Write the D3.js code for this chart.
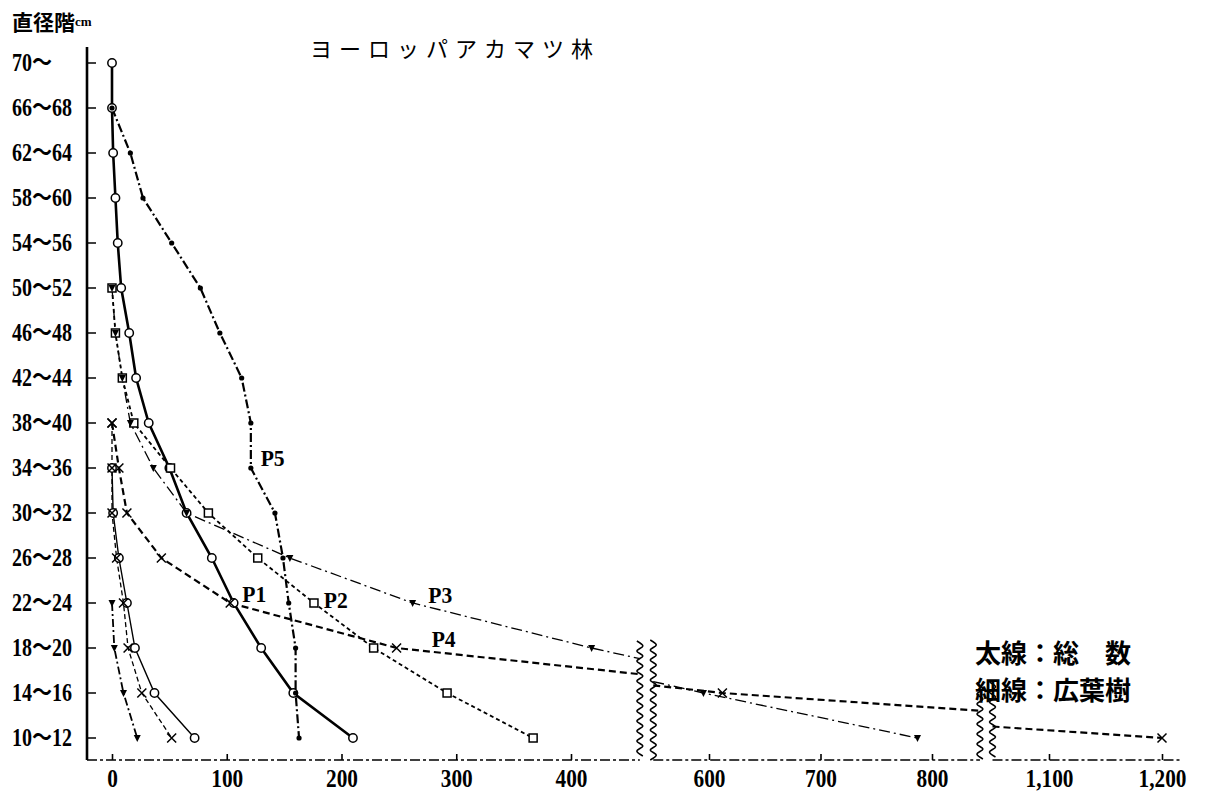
<!DOCTYPE html>
<html><head><meta charset="utf-8">
<script src="https://cdn.jsdelivr.net/npm/d3@7"></script>
<style>body{margin:0;background:#fff} svg{display:block;background:#fff}</style>
</head><body><svg id="c" width="1207" height="796"></svg>
<script>
// ---------- data ----------
const categories = ["70〜","66〜68","62〜64","58〜60","54〜56","50〜52","46〜48","42〜44","38〜40","34〜36","30〜32","26〜28","22〜24","18〜20","14〜16","10〜12"];
const N = null;
// 総数 (thick lines)
const p1Total = [0,0,1,3,5,8,15,21,32,50,65,87,106,130,158,210];
const p2Total = [N,N,N,N,N,0,3,9,19,51,84,127,176,228,292,367];
const p3Total = [N,N,N,N,N,0,3,9,16,36,65,155,262,418,595,787];
const p4Total = [N,N,N,N,N,N,N,N,0,6,13,43,103,248,612,1200];
const p5Total = [N,0,16,27,52,77,94,113,121,121,142,149,154,160,160,163];
// 広葉樹 (thin lines)
const p1Broad = [N,N,N,N,N,N,N,N,N,0,1,6,13,20,37,72];
const p3Broad = [N,N,N,N,N,N,N,N,N,N,N,N,0,2,10,22];
const p4Broad = [N,N,N,N,N,N,N,N,0,0,0,4,10,14,26,52];
// axis ticks
const xTicks1 = [0,100,200,300,400];
const xTicks2 = [600,700,800];
const xTicks3 = [1100,1200];
const seriesLabels = ["P1","P2","P3","P4","P5"];
const titleText = "ヨーロッパアカマツ林";
const yTitle = "直径階";
const yUnit = "cm";
const legend1 = "太線：総　数";
const legend2 = "細線：広葉樹";

// ---------- scales ----------
const svg = d3.select("#c");
const y = d3.scalePoint().domain(categories).range([63, 738]);
const segs = [
  {scale: d3.scaleLinear().domain([0,400]).range([112,571]), lo:-100, hi:460, ticks:xTicks1},
  {scale: d3.scaleLinear().domain([600,800]).range([709,932]), lo:550, hi:843, ticks:xTicks2},
  {scale: d3.scaleLinear().domain([1100,1200]).range([1049,1162]), lo:1050, hi:1225, ticks:xTicks3}
];
function xv(v){ for (const s of segs) if (v <= s.hi) return s.scale(v); return segs[2].scale(v); }
const axisY = 760, axisX = 87;

// ---------- axes ----------
svg.append("line").attr("x1",axisX).attr("x2",axisX).attr("y1",47).attr("y2",axisY)
  .attr("stroke","#000").attr("stroke-width",2.6);
svg.append("g").selectAll("line").data(categories).join("line")
  .attr("x1",axisX).attr("x2",axisX+9).attr("y1",d=>y(d)).attr("y2",d=>y(d))
  .attr("stroke","#000").attr("stroke-width",1.5);
svg.append("g").selectAll("text").data(categories).join("text")
  .attr("transform",d=>`translate(12,${y(d)}) scale(0.8,1)`)
  .attr("dominant-baseline","central")
  .attr("font-family","Liberation Serif, 'Noto Sans CJK JP', serif")
  .attr("font-size",25).attr("font-weight","bold")
  .text(d=>d);

// x axis (broken)
const axisSpans = [[axisX, segs[0].scale(segs[0].hi)], [segs[1].scale(segs[1].lo), segs[1].scale(segs[1].hi)], [segs[2].scale(segs[2].lo), 1180]];
svg.append("g").selectAll("line").data(axisSpans).join("line")
  .attr("x1",d=>d[0]).attr("x2",d=>d[1]).attr("y1",axisY).attr("y2",axisY)
  .attr("stroke","#000").attr("stroke-width",1.6).attr("stroke-dasharray","10,3,3,3");
segs.forEach(s=>{
  const g = svg.append("g").attr("transform",`translate(0,${axisY})`)
    .call(d3.axisBottom(s.scale).tickValues(s.ticks).tickSize(-6).tickPadding(14).tickFormat(d3.format(",")));
  g.select(".domain").remove();
  g.selectAll(".tick line").attr("stroke","#000").attr("stroke-width",1.6);
  g.selectAll(".tick text").attr("font-family","Liberation Serif, serif").attr("font-size",26)
    .attr("font-weight","bold").attr("fill","#000").attr("transform","scale(0.82,1)").attr("dy","0.5em");
});

// break squiggles
function squiggle(x, top){
  const pts=[]; let k=0;
  for (let yy=top; yy<=axisY; yy+=5, k++) pts.push([x + (k%2? 3:-3), yy]);
  return d3.line().curve(d3.curveCatmullRom)(pts);
}
const breaks = [
  [segs[0].scale(segs[0].hi), 641], [segs[1].scale(segs[1].lo), 640],
  [segs[1].scale(segs[1].hi), 684], [segs[2].scale(segs[2].lo), 682]
];
svg.append("g").selectAll("path").data(breaks).join("path")
  .attr("d",d=>squiggle(d[0],d[1])).attr("fill","none").attr("stroke","#000").attr("stroke-width",1.6);

// ---------- lines ----------
function pieces(values){
  const pts = values.map((v,i)=>v==null?null:{v, y:y(categories[i])}).filter(d=>d);
  const lines=[]; let cur=null, curSeg=-1;
  for (let i=0;i<pts.length-1;i++){
    const a=pts[i], b=pts[i+1];
    segs.forEach((s,si)=>{
      const mn=Math.min(a.v,b.v), mx=Math.max(a.v,b.v);
      const lo=Math.max(mn,s.lo), hi=Math.min(mx,s.hi);
      if (lo>hi) return;
      let t0=0,t1=1;
      if (a.v!==b.v){ t0=(lo-a.v)/(b.v-a.v); t1=(hi-a.v)/(b.v-a.v); }
      const P=t=>[s.scale(a.v+(b.v-a.v)*t), a.y+(b.y-a.y)*t];
      const p0=P(t0), p1=P(t1);
      if (cur && curSeg===si && t0===0) cur.push(p1);
      else { cur=[p0,p1]; curSeg=si; lines.push(cur); }
    });
  }
  return lines;
}
const series = [
  {vals:p1Total, dash:null, w:2.6, mark:"circle"},
  {vals:p2Total, dash:"4,3", w:1.8, mark:"square"},
  {vals:p3Total, dash:"11,4,2,4", w:1.3, mark:"tri"},
  {vals:p4Total, dash:"7,4", w:2.2, mark:"x"},
  {vals:p5Total, dash:"9,3,2,3", w:2.2, mark:"dot"},
  {vals:p1Broad, dash:null, w:1.4, mark:"circle"},
  {vals:p3Broad, dash:"8,3,2,3", w:1.8, mark:"tri"},
  {vals:p4Broad, dash:"5,3", w:1.3, mark:"x"}
];
const line = d3.line();
series.forEach(s=>{
  svg.append("g").selectAll("path").data(pieces(s.vals)).join("path")
    .attr("d",line).attr("fill","none").attr("stroke","#000").attr("stroke-width",s.w)
    .attr("stroke-dasharray",s.dash);
});
series.forEach(s=>{
  const pts = s.vals.map((v,i)=>v==null?null:[xv(v), y(categories[i])]).filter(d=>d);
  const g = svg.append("g");
  if (s.mark==="circle") g.selectAll("circle").data(pts).join("circle")
      .attr("cx",d=>d[0]).attr("cy",d=>d[1]).attr("r",4.2).attr("fill","#fff").attr("stroke","#000").attr("stroke-width",1.5);
  if (s.mark==="square") g.selectAll("rect").data(pts).join("rect")
      .attr("x",d=>d[0]-4).attr("y",d=>d[1]-4).attr("width",8).attr("height",8).attr("fill","#fff").attr("stroke","#000").attr("stroke-width",1.5);
  if (s.mark==="dot") g.selectAll("circle").data(pts).join("circle")
      .attr("cx",d=>d[0]).attr("cy",d=>d[1]).attr("r",2.6).attr("fill","#000");
  if (s.mark==="tri") g.selectAll("path").data(pts).join("path")
      .attr("d",d=>`M${d[0]-3.5},${d[1]-3}L${d[0]+3.5},${d[1]-3}L${d[0]},${d[1]+4}Z`).attr("fill","#000");
  if (s.mark==="x") g.selectAll("path").data(pts).join("path")
      .attr("d",d=>`M${d[0]-4.5},${d[1]-4.5}L${d[0]+4.5},${d[1]+4.5}M${d[0]-4.5},${d[1]+4.5}L${d[0]+4.5},${d[1]-4.5}`)
      .attr("stroke","#000").attr("stroke-width",1.5);
});

// series labels (anchored in data space)
const labelAnchors = [[124,"22〜24",-9],[195,"22〜24",-3],[286,"22〜24",-8],[289,"18〜20",-9],[140,"34〜36",-10]];
svg.append("g").selectAll("text").data(seriesLabels).join("text")
  .attr("transform",(d,i)=>`translate(${xv(labelAnchors[i][0])},${y(labelAnchors[i][1])+labelAnchors[i][2]}) scale(0.9,1)`)
  .attr("text-anchor","middle").attr("dominant-baseline","central")
  .attr("font-family","Liberation Serif, serif").attr("font-size",24).attr("font-weight","bold")
  .text(d=>d);

// titles
svg.append("text").attr("x",310).attr("y",47).attr("dominant-baseline","central")
  .attr("font-family","'Noto Sans CJK JP'").attr("font-size",22).attr("letter-spacing",7)
  .text(titleText);
const yt = svg.append("text").attr("x",12).attr("y",21).attr("dominant-baseline","central")
  .attr("font-family","'Noto Sans CJK JP'").attr("font-weight","bold");
yt.append("tspan").attr("font-size",21).text(yTitle);
yt.append("tspan").attr("font-size",13).attr("font-family","Liberation Serif, serif").text(yUnit);

svg.append("text").attr("x",975).attr("y",651).attr("dominant-baseline","central")
  .attr("font-family","'Noto Sans CJK JP'").attr("font-size",26).attr("font-weight","bold").text(legend1);
svg.append("text").attr("x",975).attr("y",688).attr("dominant-baseline","central")
  .attr("font-family","'Noto Sans CJK JP'").attr("font-size",26).attr("font-weight","bold").text(legend2);
</script></body></html>
